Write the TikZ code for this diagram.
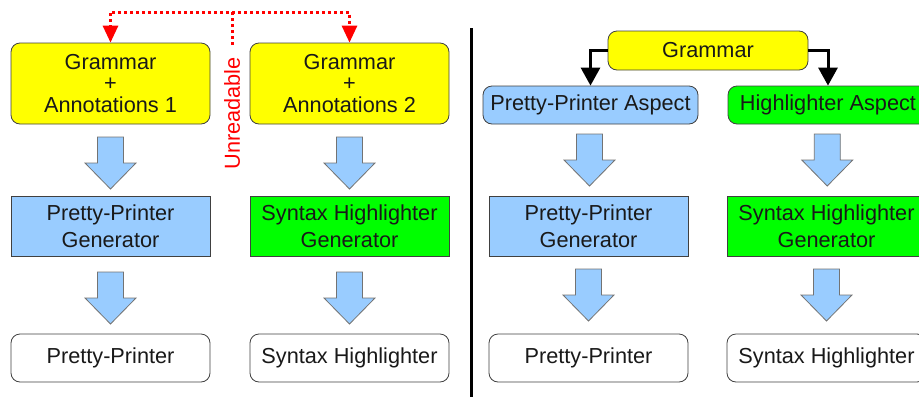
\documentclass[tikz,border=0pt]{standalone}
\usepackage{fontspec}
\setmainfont{Liberation Sans}
\usetikzlibrary{arrows.meta,calc}

\definecolor{gramyellow}{HTML}{FFFF00}
\definecolor{ppblue}{HTML}{99CCFF}
\definecolor{shgreen}{HTML}{00FF00}

\begin{document}
\begin{tikzpicture}[x=1pt,y=-1pt,
  box/.style={draw=black!75,line width=0.8pt,minimum width=199pt,align=center,
    inner sep=0pt,text=black!90,font=\fontsize{21.7}{27}\selectfont},
  roundbox/.style={box,rounded corners=9pt},
  gram/.style={roundbox,fill=gramyellow,minimum height=81pt,
    font=\fontsize{21.7}{21.5}\selectfont},
  gen/.style={box,minimum height=60pt},
  tool/.style={roundbox,fill=white,minimum height=48pt},
  aspect/.style={roundbox,minimum height=38pt},
  redline/.style={red,line width=3pt,dash pattern=on 3pt off 3pt,
    -{Triangle[length=17pt,width=15pt]}},
  blackline/.style={black,line width=3pt,
    -{Triangle[length=18pt,width=19pt]}},
  bigarrow/.pic={\draw[fill=ppblue,draw=black!55,line width=0.8pt,line join=miter]
    (-13,-26) -- (13,-26) -- (13,0) -- (25.5,0) -- (0,26) -- (-25.5,0) -- (-13,0) -- cycle;}
]
\path[use as bounding box] (0,0) rectangle (919,397);
\clip (0,0) rectangle (919,397);

% left: one grammar per tool
\node[gram] (g1) at (110.5,83.5) {Grammar\\+\\Annotations 1};
\node[gram] (g2) at (349.5,83.5) {Grammar\\+\\Annotations 2};
\node[gen,fill=ppblue] (ppg1) at (110.5,226) {Pretty-Printer\\Generator};
\node[gen,fill=shgreen] (shg1) at (349.5,226) {Syntax Highlighter\\Generator};
\node[tool] (pp1) at (110.5,358) {Pretty-Printer};
\node[tool] (sh1) at (349.5,358) {Syntax Highlighter};

\node[red,rotate=90,font=\fontsize{21.7}{26}\selectfont,inner sep=0pt] (unr) at (232,113.5) {Unreadable};
\coordinate (top) at (232,12);
\draw[redline] ($(unr.east)+(0,-12)$) -- (top) -| (g1.north);
\draw[redline] (top) -| (g2.north);

\foreach \a/\b in {g1/ppg1,ppg1/pp1,g2/shg1,shg1/sh1}
  \pic at ($(\a.south)!0.5!(\b.north)+(0,3)$) {bigarrow};

% divider
\draw[line width=3pt] (471,28) -- (471,397);

% right: one grammar, aspects
\node[roundbox,fill=gramyellow,minimum width=200pt,minimum height=39pt] (gr) at (708,50.5) {Grammar};
\node[aspect,fill=ppblue,minimum width=215pt] (ppa) at (590.5,105) {Pretty-Printer Aspect};
\node[aspect,fill=shgreen,minimum width=200pt] (ha) at (828,105) {Highlighter Aspect};
\node[gen,fill=ppblue] (ppg2) at (588.5,226) {Pretty-Printer\\Generator};
\node[gen,fill=shgreen] (shg2) at (826.5,226) {Syntax Highlighter\\Generator};
\node[tool] (pp2) at (588.5,358) {Pretty-Printer};
\node[tool] (sh2) at (826.5,358) {Syntax Highlighter};

\draw[blackline] (gr.west) -| (ppa.north);
\draw[blackline] (gr.east) -| (ha.north);

\pic at ($(ppa.south)!0.5!(ppg2.north)$) {bigarrow};
\pic at ($(ha.south)!0.5!(shg2.north)$) {bigarrow};
\foreach \a/\b in {ppg2/pp2,shg2/sh2}
  \pic at ($(\a.south)!0.5!(\b.north)$) {bigarrow};
\end{tikzpicture}
\end{document}
